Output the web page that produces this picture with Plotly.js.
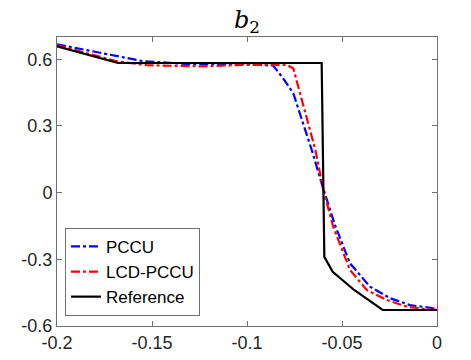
<!DOCTYPE html>
<html>
<head>
<meta charset="utf-8">
<script src="https://cdn.plot.ly/plotly-3.0.1.min.js"></script>
<style>
  html, body { margin: 0; padding: 0; background: #fff; }
  #chart { width: 471px; height: 360px; }
</style>
</head>
<body>
<div id="chart"></div>
<script>
// values
const pccuX = [-0.2, -0.1546, -0.13, -0.10, -0.0862, -0.0809, -0.0756, -0.0721, -0.0659, -0.0607, -0.0537, -0.0458, -0.0353, -0.0247, -0.0142, -0.002, 0];
const pccuY = [0.667, 0.591, 0.578, 0.58, 0.571, 0.513, 0.446, 0.356, 0.191, 0.041, -0.146, -0.318, -0.423, -0.475, -0.506, -0.52, -0.522];

const lcdX = [-0.2, -0.1686, -0.1528, -0.125, -0.10, -0.0791, -0.0756, -0.0712, -0.0640, -0.0598, -0.0546, -0.0458, -0.0370, -0.0265, -0.0159, -0.0054, 0];
const lcdY = [0.663, 0.591, 0.573, 0.568, 0.575, 0.575, 0.558, 0.416, 0.191, 0.011, -0.154, -0.348, -0.438, -0.483, -0.513, -0.525, -0.528];

const refX = [-0.2, -0.1679, -0.0607, -0.0600, -0.0593, -0.0549, -0.0436, -0.0286, 0];
const refY = [0.658, 0.583, 0.583, 0.0, -0.289, -0.356, -0.438, -0.528, -0.528];

const xTicks = [-0.2, -0.15, -0.1, -0.05, 0];
const xTickText = ['-0.2', '-0.15', '-0.1', '-0.05', '0'];
const yTicks = [-0.6, -0.3, 0, 0.3, 0.6];
const yTickText = ['-0.6', '-0.3', '0', '0.3', '0.6'];

const traces = [
  {x: pccuX, y: pccuY, mode: 'lines', name: 'PCCU',
   line: {color: '#0000ff', width: 2.2, dash: 'dashdot'}},
  {x: lcdX, y: lcdY, mode: 'lines', name: 'LCD-PCCU',
   line: {color: '#ff0000', width: 2.2, dash: 'dashdot'}},
  {x: refX, y: refY, mode: 'lines', name: 'Reference',
   line: {color: '#000000', width: 2.2}}
];

const sans = 'Liberation Sans, Arial, sans-serif';

const axisCommon = {
  showgrid: false, zeroline: false,
  showline: true, mirror: 'ticks', linecolor: '#707070', linewidth: 1,
  ticks: 'inside', ticklen: 5, tickcolor: '#707070',
  tickfont: {family: sans, size: 18, color: '#262626'}
};

const layout = {
  width: 471, height: 360,
  margin: {l: 57, r: 34, t: 37, b: 34},
  paper_bgcolor: '#fff', plot_bgcolor: '#fff',
  showlegend: true,
  title: {
    text: '<i>b</i><sub>2</sub>',
    font: {family: 'DejaVu Serif', size: 24, color: '#000'},
    x: 0.5, xanchor: 'center', xref: 'paper',
    y: 1 - 20 / 360, yanchor: 'middle', yref: 'container'
  },
  xaxis: Object.assign({}, axisCommon, {
    range: [-0.2, 0], tickvals: xTicks, ticktext: xTickText
  }),
  yaxis: Object.assign({}, axisCommon, {
    range: [-0.6, 0.7], tickvals: yTicks, ticktext: yTickText
  }),
  legend: {
    x: 0.021, y: 0.035, xanchor: 'left', yanchor: 'bottom',
    bgcolor: '#fff', bordercolor: '#707070', borderwidth: 1,
    font: {family: sans, size: 17, color: '#000'},
    tracegroupgap: 0
  }
};

Plotly.newPlot('chart', traces, layout, {displayModeBar: false, staticPlot: true});
</script>
</body>
</html>
